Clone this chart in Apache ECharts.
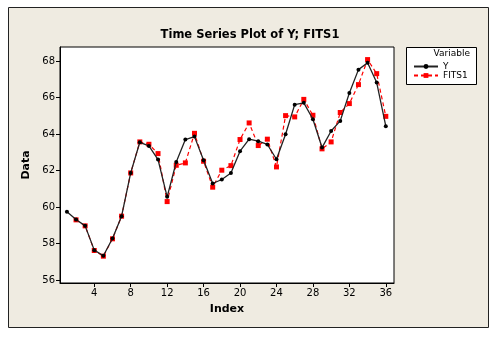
<!DOCTYPE html>
<html>
<head>
<meta charset="utf-8">
<script src="https://cdn.jsdelivr.net/npm/echarts@6/dist/echarts.min.js"></script>
<style>
html,body{margin:0;padding:0;background:#fff;}
#chart{width:500px;height:337px;}
</style>
</head>
<body>
<div id="chart"></div>
<script>
const titleText = "Time Series Plot of Y; FITS1";
const xName = "Index";
const yName = "Data";
const indexValues = [1,2,3,4,5,6,7,8,9,10,11,12,13,14,15,16,17,18,19,20,21,22,23,24,25,26,27,28,29,30,31,32,33,34,35,36];
const yValues = [59.74,59.32,58.97,57.64,57.33,58.28,59.50,61.87,63.55,63.35,62.60,60.56,62.47,63.70,63.86,62.56,61.29,61.51,61.87,63.06,63.72,63.61,63.43,62.62,63.99,65.61,65.71,64.81,63.26,64.17,64.72,66.25,67.53,67.91,66.82,64.43];
const fitsValues = [null,59.30,58.97,57.62,57.31,58.26,59.50,61.87,63.57,63.44,62.93,60.30,62.29,62.42,64.04,62.51,61.09,62.02,62.27,63.70,64.61,63.37,63.72,62.20,65.01,64.94,65.90,65.03,63.19,63.57,65.18,65.67,66.71,68.08,67.31,64.97];
const xTicks = [4,8,12,16,20,24,28,32,36];
const yTicks = [56,58,60,62,64,66,68];
const legendTitle = "Variable";

const font = "DejaVu Sans";
const chart = echarts.init(document.getElementById('chart'), null, {renderer:'canvas'});
const option = {
  animation:false,
  backgroundColor:'#ffffff',
  textStyle:{fontFamily:font},
  title:{
    text:titleText, left:'center', top:24,
    textStyle:{fontFamily:font, fontWeight:'bold', fontSize:11.5, color:'#000'}
  },
  graphic:[
    {type:'rect', z:-100, silent:true, shape:{x:8.5,y:7.5,width:480,height:320},
     style:{fill:'#EFEBE1', stroke:'#222', lineWidth:1}},
    {type:'rect', z:5, silent:true, shape:{x:406.5,y:47.5,width:70,height:37},
     style:{fill:'#fff', stroke:'#000', lineWidth:1}},
    {type:'text', z:6, silent:true, style:{text:legendTitle, x:470, y:54, align:'right', verticalAlign:'middle',
     fontFamily:font, fontSize:9, fill:'#000'}}
  ],
  legend:{
    z:10, orient:'vertical', left:408, top:57, itemWidth:24, itemHeight:6, itemGap:0,
    textStyle:{fontFamily:font, fontSize:9, color:'#000', lineHeight:9},
    data:['Y','FITS1']
  },
  grid:{left:60, top:47, right:106, bottom:54, show:true, backgroundColor:'#fff', borderColor:'#000', borderWidth:1},
  xAxis:{
    type:'value', min:0.24, max:36.9,
    name:xName, nameLocation:'middle', nameGap:21,
    nameTextStyle:{fontFamily:font, fontWeight:'bold', fontSize:11, color:'#000'},
    axisLine:{show:true, lineStyle:{color:'#000'}},
    axisTick:{show:true, length:4, inside:false, customValues:xTicks, lineStyle:{color:'#000'}},
    axisLabel:{customValues:xTicks, fontFamily:font, fontSize:10, color:'#000', margin:5},
    splitLine:{show:false}
  },
  yAxis:{
    type:'value', min:55.84, max:68.77,
    name:yName, nameLocation:'middle', nameGap:23, nameRotate:90,
    nameTextStyle:{fontFamily:font, fontWeight:'bold', fontSize:11, color:'#000'},
    axisLine:{show:true, lineStyle:{color:'#000'}},
    axisTick:{show:true, length:4, inside:false, customValues:yTicks, lineStyle:{color:'#000'}},
    axisLabel:{customValues:yTicks, fontFamily:font, fontSize:10, color:'#000', margin:5},
    splitLine:{show:false}
  },
  series:[
    {name:'Y', type:'line', data:indexValues.map((x,i)=>[x,yValues[i]]),
     symbol:'circle', symbolSize:4, itemStyle:{color:'#000'},
     lineStyle:{color:'#222', width:1.3}, z:3},
    {name:'FITS1', type:'line', data:indexValues.map((x,i)=>[x,fitsValues[i]]),
     symbol:'rect', symbolSize:5, itemStyle:{color:'#ff0000'},
     lineStyle:{color:'#ff0000', width:1.2, type:[4,3]}, z:2}
  ]
};
chart.setOption(option);
</script>
</body>
</html>
